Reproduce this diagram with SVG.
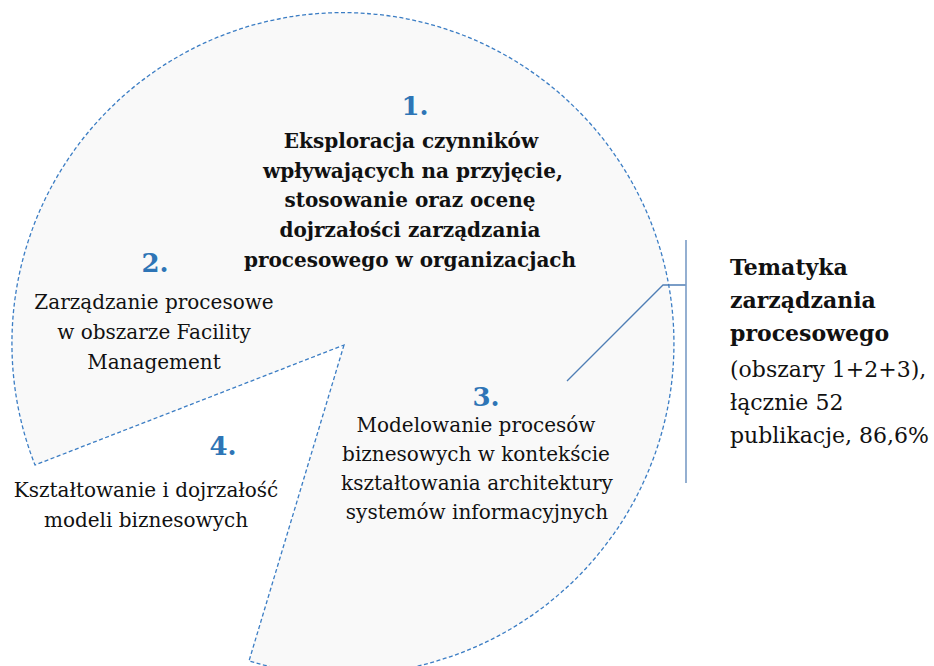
<svg xmlns="http://www.w3.org/2000/svg" width="934" height="666" viewBox="0 0 934 666">
<style>
.pie{fill:#f9f9f9;stroke:#3b7dc4;stroke-width:1.3;stroke-dasharray:4 2.5}
.num{font-family:"DejaVu Serif","Liberation Serif",serif;font-weight:bold;font-size:26px;fill:#2e75b6;text-anchor:middle}
.t{font-family:"DejaVu Serif","Liberation Serif",serif;font-size:20px;fill:#111;text-anchor:middle}
.tb{font-family:"DejaVu Serif","Liberation Serif",serif;font-size:20px;font-weight:bold;fill:#111;text-anchor:middle}
.r{font-family:"DejaVu Serif","Liberation Serif",serif;font-size:22px;fill:#111}
.rb{font-weight:bold}
.ln{stroke:#4f7eb5;stroke-width:1.3;fill:none}
.br{stroke:#7a9cc6;stroke-width:1.6;fill:none}
</style>
<rect width="934" height="666" fill="#fff"/>
<g id="pie">
<path class="pie" d="M 344 345 L 249 661 A 331 331 0 1 0 35 465 Z"/>
</g>
<g id="seg1">
<text class="num" x="415" y="115">1.</text>
<text class="tb" x="411" y="148">Eksploracja czynników</text>
<text class="tb" x="413" y="178">wpływających na przyjęcie,</text>
<text class="tb" x="410" y="207">stosowanie oraz ocenę</text>
<text class="tb" x="410" y="237">dojrzałości zarządzania</text>
<text class="tb" x="410" y="267">procesowego w organizacjach</text>
</g>
<g id="seg2">
<text class="num" x="155" y="272">2.</text>
<text class="t" x="154" y="309">Zarządzanie procesowe</text>
<text class="t" x="154" y="339">w obszarze Facility</text>
<text class="t" x="154" y="369">Management</text>
</g>
<g id="seg3">
<text class="num" x="486" y="406">3.</text>
<text class="t" x="476" y="432">Modelowanie procesów</text>
<text class="t" x="476" y="461">biznesowych w kontekście</text>
<text class="t" x="477" y="490">kształtowania architektury</text>
<text class="t" x="477" y="519">systemów informacyjnych</text>
</g>
<g id="seg4">
<text class="num" x="223" y="455">4.</text>
<text class="t" x="146" y="497">Kształtowanie i dojrzałość</text>
<text class="t" x="146" y="527">modeli biznesowych</text>
</g>
<g id="summary">
<text class="r" x="730" y="275"><tspan class="rb">Tematyka</tspan></text>
<text class="r" x="730" y="308"><tspan class="rb">zarządzania</tspan></text>
<text class="r" x="730" y="341"><tspan class="rb">procesowego</tspan></text>
<text class="r" x="730" y="377">(obszary 1+2+3),</text>
<text class="r" x="730" y="410">łącznie 52</text>
<text class="r" x="730" y="443">publikacje, 86,6%</text>
</g>
<g id="connectors">
<polyline class="ln" points="567,381 663,285 686,285"/>
<line class="br" x1="686" y1="240" x2="686" y2="483"/>
</g>
</svg>
